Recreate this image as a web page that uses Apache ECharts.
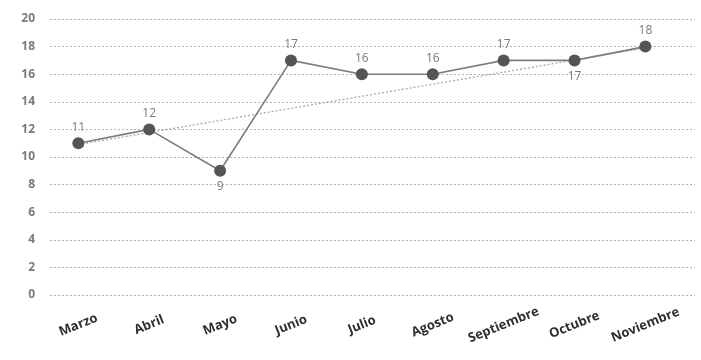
<!DOCTYPE html>
<html>
<head>
<meta charset="utf-8">
<script src="https://cdn.jsdelivr.net/npm/echarts@6/dist/echarts.min.js"></script>
<style>
html,body{margin:0;padding:0;background:#fff;}
#chart{width:701px;height:360px;}
</style>
</head>
<body>
<div id="chart"></div>
<script>
// datos
var meses = ['Marzo', 'Abril', 'Mayo', 'Junio', 'Julio', 'Agosto', 'Septiembre', 'Octubre', 'Noviembre'];
var valores = [11, 12, 9, 17, 16, 16, 17, 17, 18];
var tendencia = [10.9, 17.9]; // extremos de la linea de tendencia (Marzo -> Noviembre)
var yTicks = [0, 2, 4, 6, 8, 10, 12, 14, 16, 18, 20];

// etiquetas debajo del punto
var abajo = {2: true, 7: true};

var myChart = echarts.init(document.getElementById('chart'));
var option = {
	animation: false,
	backgroundColor: '#fff',
	grid: {
		left: 50,
		right: 6,
		top: 19,
		bottom: 65
	},
	xAxis: {
		type: 'value',
		min: -0.4,
		max: 8.7,
		axisLine: {show: false},
		axisTick: {show: false},
		splitLine: {show: false},
		axisLabel: {
			customValues: meses.map(function (m, i) { return i; }),
			formatter: function (v) { return meses[Math.round(v)]; },
			rotate: 22,
			align: 'center',
			verticalAlign: 'middle',
			margin: 30,
			color: '#2f2f2f',
			fontFamily: 'Open Sans',
			fontWeight: 'bold',
			fontSize: 13
		}
	},
	yAxis: {
		type: 'value',
		min: yTicks[0],
		max: yTicks[yTicks.length - 1],
		interval: 2,
		axisLine: {show: false},
		axisTick: {show: false},
		axisLabel: {
			margin: 15,
			color: '#7a7a7a',
			fontFamily: 'Open Sans',
			fontWeight: 'bold',
			fontSize: 12
		},
		splitLine: {
			lineStyle: {
				color: '#b4b4b4',
				type: [2, 2],
				width: 1
			}
		}
	},
	series: [
		{
			type: 'line',
			data: [[0, tendencia[0]], [meses.length - 1, tendencia[1]]],
			symbol: 'none',
			z: 1,
			lineStyle: {color: '#a9a9a9', width: 1.3, type: [2, 2]}
		},
		{
			type: 'line',
			data: valores.map(function (v, i) {
				return {
					value: [i, v],
					label: {position: abajo[i] ? 'bottom' : 'top'}
				};
			}),
			symbol: 'circle',
			symbolSize: 12,
			z: 3,
			itemStyle: {color: '#555555'},
			lineStyle: {color: '#7d7d7d', width: 1.6},
			label: {
				show: true,
				formatter: function (p) { return p.value[1]; },
				color: '#7a7a7a',
				fontFamily: 'Open Sans',
				fontSize: 12,
				distance: 4
			}
		}
	]
};
myChart.setOption(option);
</script>
</body>
</html>
